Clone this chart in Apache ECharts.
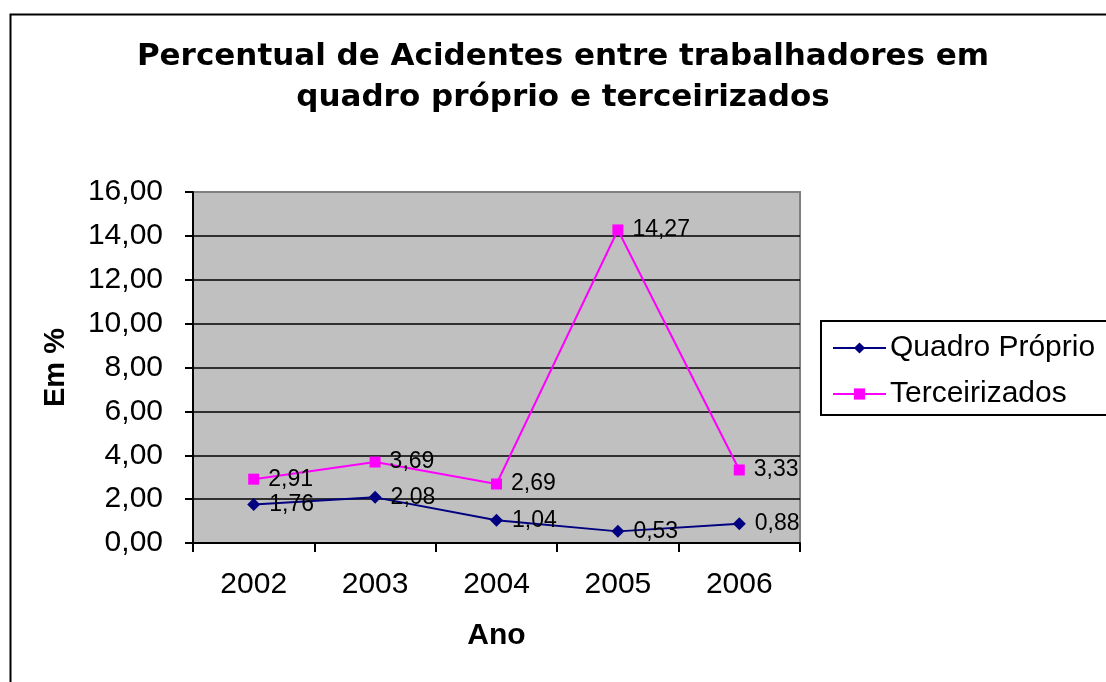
<!DOCTYPE html>
<html>
<head>
<meta charset="utf-8">
<script src="https://cdn.jsdelivr.net/npm/echarts@6/dist/echarts.min.js"></script>
<style>
html, body { margin: 0; padding: 0; background: #fff; }
#chart { width: 1106px; height: 682px; }
</style>
</head>
<body>
<div id="chart"></div>
<script>
// dados
var anos = ['2002', '2003', '2004', '2005', '2006'];
var quadroProprio = [1.76, 2.08, 1.04, 0.53, 0.88];
var terceirizados = [2.91, 3.69, 2.69, 14.27, 3.33];
var yTicks = { min: 0, max: 16, interval: 2 };

function virgula(v) { // 2.91 -> "2,91"
	return Number(v).toFixed(2).replace('.', ',');
}

var myChart = echarts.init(document.getElementById('chart'));

var labelStyle = {
	show: true,
	position: 'right',
	distance: 9,
	color: '#000',
	fontFamily: 'Liberation Sans, Arial',
	fontSize: 23,
	formatter: function (p) { return virgula(p.value); }
};

var option = {
	animation: false,
	backgroundColor: '#fff',
	title: {
		text: 'Percentual de Acidentes entre trabalhadores em\nquadro próprio e terceirizados',
		left: 563,
		top: 36,
		padding: 0,
		textAlign: 'center',
		textStyle: {
			fontFamily: 'DejaVu Sans',
			fontWeight: 'bold',
			fontSize: 31,
			lineHeight: 41,
			color: '#000'
		}
	},
	// moldura externa (cortada à direita e embaixo)
	graphic: [{
		type: 'rect',
		left: 8,
		top: 12,
		shape: { width: 1200, height: 800 },
		style: { fill: 'none', stroke: '#000', lineWidth: 2 },
		z: 100
	}],
	legend: {
		orient: 'vertical',
		left: 821,
		top: 321,
		padding: [12, 20, 6, 11],
		itemGap: 16,
		itemWidth: 53,
		itemHeight: 14,
		borderColor: '#000',
		borderWidth: 2,
		textStyle: {
			color: '#000',
			fontFamily: 'Liberation Sans, Arial',
			fontSize: 30,
			padding: [0, 0, 0, -1]
		},
		data: ['Quadro Próprio', 'Terceirizados']
	},
	grid: {
		left: 193,
		right: 306,
		top: 192,
		bottom: 139,
		show: true,
		backgroundColor: '#C0C0C0',
		borderColor: '#808080',
		borderWidth: 2,
		containLabel: false
	},
	xAxis: {
		type: 'category',
		data: anos,
		name: 'Ano',
		nameLocation: 'middle',
		nameGap: 78,
		nameTextStyle: {
			color: '#000',
			fontFamily: 'Liberation Sans, Arial',
			fontWeight: 'bold',
			fontSize: 30
		},
		axisLine: { lineStyle: { color: '#000', width: 2 } },
		axisTick: { show: true, length: 9, lineStyle: { color: '#000', width: 2 } },
		axisLabel: {
			margin: 27,
			color: '#000',
			fontFamily: 'Liberation Sans, Arial',
			fontSize: 30
		}
	},
	yAxis: {
		type: 'value',
		min: yTicks.min,
		max: yTicks.max,
		interval: yTicks.interval,
		name: 'Em %',
		nameLocation: 'middle',
		nameRotate: 90,
		nameGap: 123,
		nameTextStyle: {
			color: '#000',
			fontFamily: 'Liberation Sans, Arial',
			fontWeight: 'bold',
			fontSize: 29
		},
		axisLine: { show: true, lineStyle: { color: '#000', width: 2 } },
		axisTick: { show: true, length: 8, lineStyle: { color: '#000', width: 2 } },
		axisLabel: {
			margin: 30,
			color: '#000',
			fontFamily: 'Liberation Sans, Arial',
			fontSize: 30,
			formatter: virgula
		},
		splitLine: {
			show: true,
			showMaxLine: false,
			lineStyle: { color: '#000', width: 1.5 }
		}
	},
	series: [
		{
			name: 'Quadro Próprio',
			type: 'line',
			data: quadroProprio,
			symbol: 'diamond',
			symbolSize: 13,
			itemStyle: { color: '#000080' },
			lineStyle: { color: '#000080', width: 2 },
			label: labelStyle,
			z: 3
		},
		{
			name: 'Terceirizados',
			type: 'line',
			data: terceirizados,
			symbol: 'rect',
			symbolSize: 11,
			itemStyle: { color: '#FF00FF' },
			lineStyle: { color: '#FF00FF', width: 2 },
			label: labelStyle,
			z: 2
		}
	]
};

myChart.setOption(option);
</script>
</body>
</html>
